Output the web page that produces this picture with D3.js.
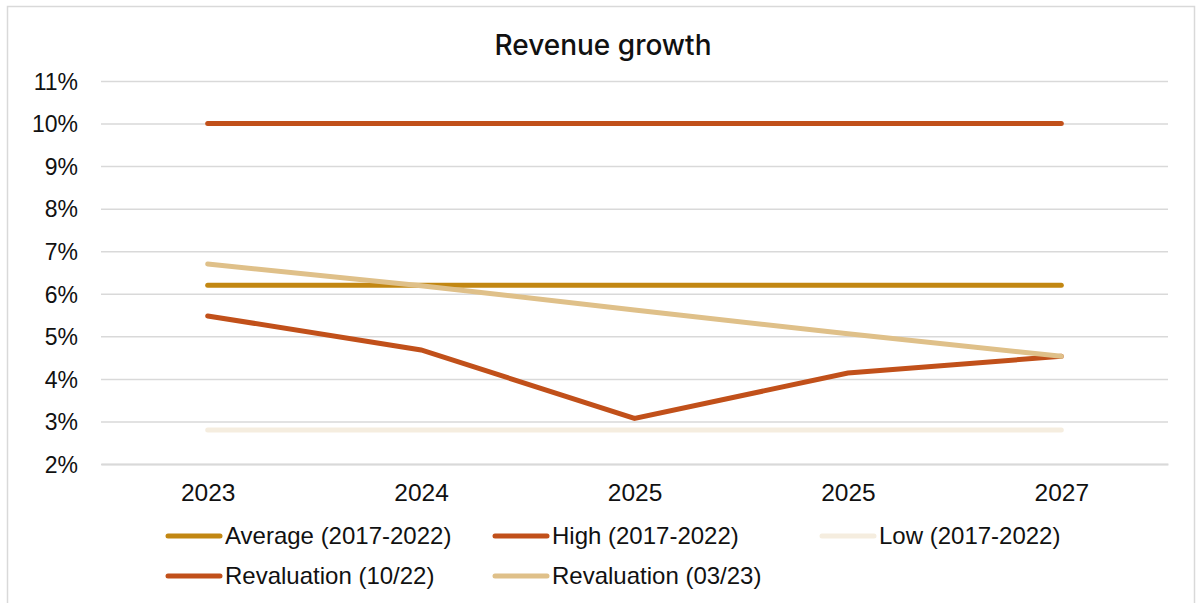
<!DOCTYPE html>
<html>
<head>
<meta charset="utf-8">
<script src="https://cdn.jsdelivr.net/npm/d3@7"></script>
<style>
  html, body { margin: 0; padding: 0; background: #fff; }
  svg { display: block; }
  .tick text { font-family: "Liberation Sans", Arial, sans-serif; }
</style>
</head>
<body>
<svg id="chart" width="1198" height="603"></svg>
<script>
// Category labels along the x axis (as printed)
const years = ["2023", "2024", "2025", "2025", "2027"];
// Y-axis ticks, in percent
const yTicks = [2, 3, 4, 5, 6, 7, 8, 9, 10, 11];

// Series values, in percent
const average2017_2022 = [6.2, 6.2, 6.2, 6.2, 6.2];
const high2017_2022 = [10, 10, 10, 10, 10];
const low2017_2022 = [2.8, 2.8, 2.8, 2.8, 2.8];
const revaluation1022 = [5.48, 4.68, 3.07, 4.14, 4.53];
const revaluation0323 = [6.7, 6.19, 5.62, 5.06, 4.53];

const seriesNames = [
  "Average (2017-2022)", "High (2017-2022)", "Low (2017-2022)",
  "Revaluation (10/22)", "Revaluation (03/23)"
];
const seriesValues = [average2017_2022, high2017_2022, low2017_2022, revaluation1022, revaluation0323];
const seriesColors = ["#C28712", "#C1501A", "#F5EDDF", "#C1501A", "#DFC089"];

const series = seriesNames.map((name, i) => ({ name, values: seriesValues[i], color: seriesColors[i] }));

const svg = d3.select("#chart");
const plot = { left: 101, right: 1168, top: 81, bottom: 464 };

// Outer frame
svg.append("rect")
  .attr("x", 7.5).attr("y", 6.5)
  .attr("width", 1187).attr("height", 605)
  .attr("fill", "#fff").attr("stroke", "#d9d9d9").attr("stroke-width", 1.5);

// Title
svg.append("text")
  .attr("x", 603).attr("y", 55)
  .attr("text-anchor", "middle")
  .attr("font-family", "Inter, 'Liberation Sans', sans-serif")
  .attr("font-size", 28)
  .attr("font-weight", 500)
  .attr("fill", "#111")
  .text("Revenue growth");

const x = d3.scalePoint()
  .domain(d3.range(years.length))
  .range([plot.left, plot.right])
  .padding(0.5);

const y = d3.scaleLinear()
  .domain([2, 11])
  .range([plot.bottom, plot.top]);

// Horizontal gridlines + y labels
const yAxis = d3.axisLeft(y)
  .tickValues(yTicks)
  .tickSize(-(plot.right - plot.left))
  .tickPadding(23)
  .tickFormat(d => d + "%");

const gy = svg.append("g")
  .attr("transform", `translate(${plot.left},0)`)
  .call(yAxis);
gy.select(".domain").remove();
gy.selectAll(".tick line").attr("stroke", "#d9d9d9").attr("stroke-width", 1.5);
gy.selectAll(".tick text")
  .attr("font-size", 23)
  .attr("fill", "#111")
  .attr("dy", "0.36em");

// Category axis
const xAxis = d3.axisBottom(x)
  .tickSize(0)
  .tickPadding(20)
  .tickFormat(i => years[i]);

const gx = svg.append("g")
  .attr("transform", `translate(0,${plot.bottom})`)
  .call(xAxis);
gx.select(".domain").attr("stroke", "#d9d9d9").attr("stroke-width", 2);
gx.selectAll(".tick text")
  .attr("font-size", 24.5)
  .attr("fill", "#111");

// Lines
const line = d3.line()
  .x((d, i) => x(i))
  .y(d => y(d));

const drawOrder = [2, 0, 1, 3, 4];
svg.append("g")
  .selectAll("path")
  .data(drawOrder.map(i => series[i]))
  .join("path")
  .attr("d", d => line(d.values))
  .attr("fill", "none")
  .attr("stroke", d => d.color)
  .attr("stroke-width", 5)
  .attr("stroke-linecap", "round")
  .attr("stroke-linejoin", "miter");

// Legend: three columns, two rows
const legend = svg.append("g")
  .attr("font-family", "'Liberation Sans', Arial, sans-serif")
  .attr("font-size", 24)
  .attr("fill", "#111");

const colX = [166, 493, 820];
const rowY = [536, 576];
series.forEach((s, i) => {
  const col = i % 3, row = Math.floor(i / 3);
  const g = legend.append("g")
    .attr("transform", `translate(${colX[col]},${rowY[row]})`);
  g.append("line")
    .attr("x1", 2).attr("x2", 54)
    .attr("y1", 0).attr("y2", 0)
    .attr("stroke", s.color)
    .attr("stroke-width", 5)
    .attr("stroke-linecap", "round");
  g.append("text")
    .attr("x", 59)
    .attr("dy", "0.35em")
    .text(s.name);
});
</script>
</body>
</html>
